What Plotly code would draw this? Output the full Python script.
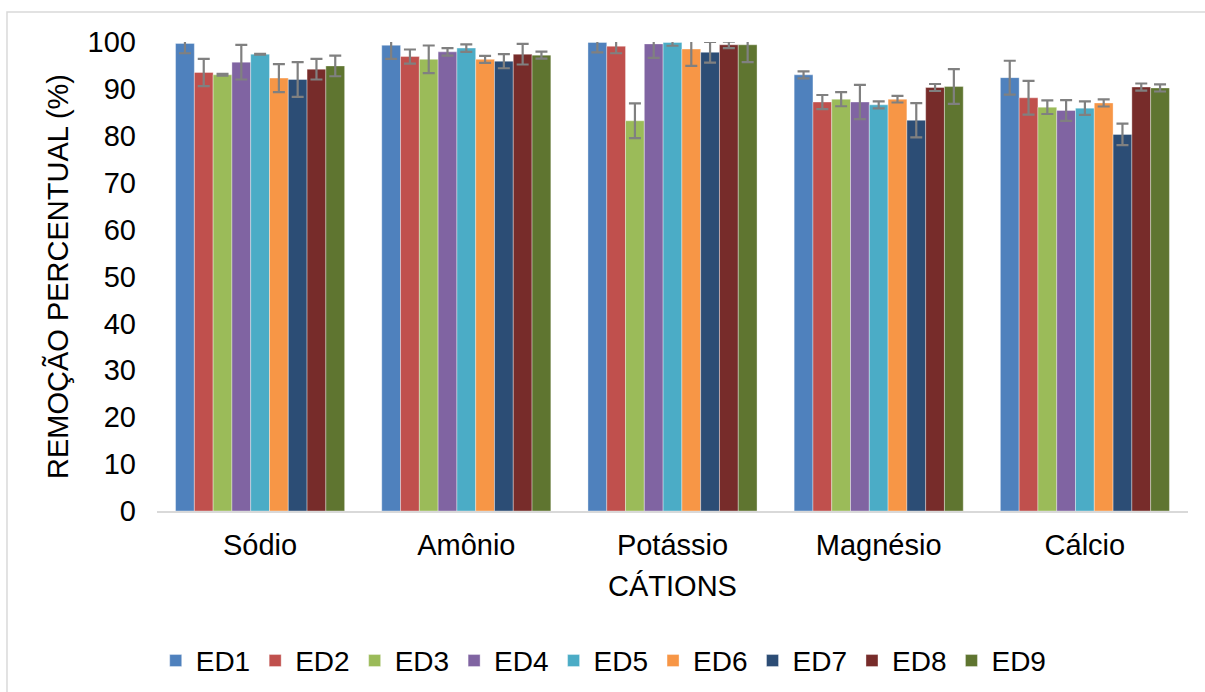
import plotly.graph_objects as go

# Cation categories on the x axis
cations = ["Sódio", "Amônio", "Potássio", "Magnésio", "Cálcio"]

# Removal percentage (%) per electrodialysis run, one value per cation
ed1 = [99.7, 99.3, 99.9, 93.0, 92.4]
ed2 = [93.5, 96.9, 99.1, 87.2, 88.1]
ed3 = [93.0, 96.3, 83.2, 87.8, 86.1]
ed4 = [95.7, 97.9, 99.6, 87.2, 85.4]
ed5 = [97.4, 98.7, 99.9, 86.6, 85.9]
ed6 = [92.3, 96.3, 98.5, 87.8, 87.0]
ed7 = [92.0, 95.9, 97.8, 83.3, 80.3]
ed8 = [94.2, 97.4, 99.4, 90.3, 90.4]
ed9 = [94.9, 97.2, 99.4, 90.5, 90.2]

# Standard deviations (error bars)
err1 = [2.1, 2.9, 2.1, 0.75, 3.6]
err2 = [2.9, 1.5, 1.5, 1.5, 3.6]
err3 = [0.2, 2.95, 3.7, 1.5, 1.45]
err4 = [3.7, 0.8, 3.0, 3.65, 2.2]
err5 = [0.1, 0.8, 0.7, 0.75, 1.45]
err6 = [3.0, 0.75, 3.6, 0.7, 0.75]
err7 = [3.7, 1.5, 2.2, 3.65, 2.3]
err8 = [2.2, 2.2, 0.7, 0.75, 0.75]
err9 = [2.2, 0.75, 3.7, 3.7, 0.75]

series_names = ["ED1", "ED2", "ED3", "ED4", "ED5", "ED6", "ED7", "ED8", "ED9"]
series_values = [ed1, ed2, ed3, ed4, ed5, ed6, ed7, ed8, ed9]
series_errors = [err1, err2, err3, err4, err5, err6, err7, err8, err9]
colors = ["#4F81BD", "#C0504D", "#9BBB59", "#8064A2", "#4BACC6",
          "#F79646", "#2C4D75", "#772C2A", "#5F7530"]

FONT = "Arial, 'Liberation Sans', sans-serif"

fig = go.Figure()
for name, vals, errs, col in zip(series_names, series_values, series_errors, colors):
    fig.add_trace(go.Bar(
        name=name,
        x=cations,
        y=vals,
        marker=dict(color=col, line=dict(color="rgba(255,255,255,0.6)", width=0.6)),
        error_y=dict(type="data", array=errs, visible=True,
                     color="#808080", thickness=2.2, width=6),
    ))

# Light frame around the whole chart
fig.add_shape(type="rect", xref="paper", yref="paper",
              x0=-0.1455, x1=1.03, y0=-0.41, y1=1.064,
              line=dict(color="#D9D9D9", width=1.5), fillcolor="rgba(0,0,0,0)",
              layer="below")

fig.update_layout(
    width=1205, height=692,
    margin=dict(l=157, r=17, t=42, b=181, autoexpand=False),
    paper_bgcolor="white", plot_bgcolor="white",
    barmode="group", bargap=0.18, bargroupgap=0,
    font=dict(family=FONT, size=29, color="black"),
    showlegend=True,
    legend=dict(orientation="h", xref="container", x=0.501, xanchor="center",
                yref="container", y=0.045, yanchor="middle",
                font=dict(size=28), itemwidth=30,
                traceorder="normal"),
    xaxis=dict(
        title=dict(text="CÁTIONS", font=dict(size=29), standoff=16),
        showline=True, linecolor="#D9D9D9", linewidth=1.5,
        ticks="", showgrid=False, tickfont=dict(size=29),
        ticklabelstandoff=7, automargin=False,
    ),
    yaxis=dict(
        title=dict(text="REMOÇÃO PERCENTUAL (%)", font=dict(size=29), standoff=10),
        range=[0, 100], dtick=10, tick0=0,
        showline=False, showgrid=False, zeroline=False,
        ticks="", tickfont=dict(size=29),
        ticklabelstandoff=20, automargin=False,
    ),
)

fig.write_html("out.html")
